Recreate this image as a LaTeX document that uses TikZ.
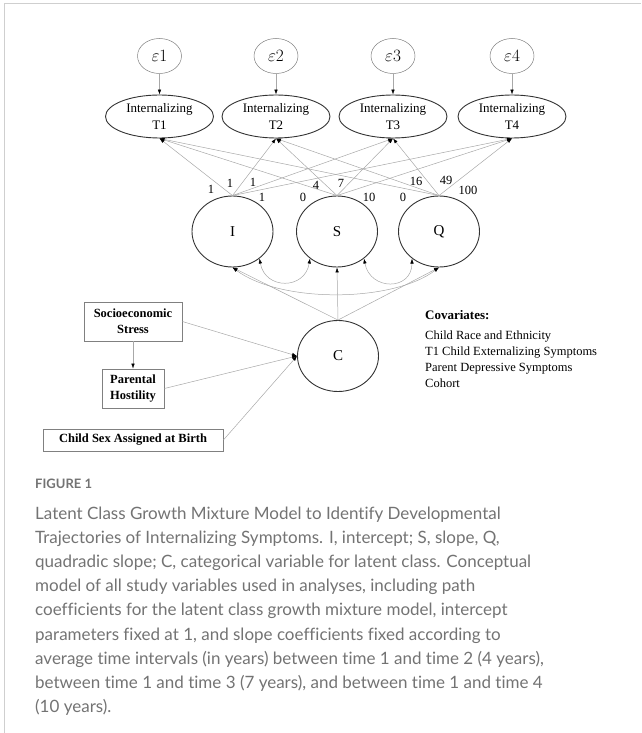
\documentclass[tikz,border=0pt]{standalone}
\usepackage{fontspec}
\setmainfont{Liberation Serif}
\newfontfamily\capfont[Ligatures=CommonOff]{Lato}
\usetikzlibrary{shapes.geometric,arrows.meta}
\definecolor{framegray}{HTML}{CFCFCF}
\definecolor{linegray}{HTML}{A8A8A8}
\definecolor{capgray}{HTML}{737373}
\definecolor{dark}{HTML}{333333}
\begin{document}
\begin{tikzpicture}[x=1pt,y=-1pt,
  errnode/.style={ellipse,draw=gray,line width=0.5pt,minimum width=44pt,minimum height=35pt,inner sep=0pt,font=\fontsize{18}{18}\selectfont},
  obs/.style={ellipse,draw=dark,line width=0.9pt,minimum width=108pt,minimum height=43pt,inner sep=0pt,align=center,font=\fontsize{13}{16.5}\selectfont},
  lat/.style={ellipse,draw=dark,line width=0.9pt,minimum width=81pt,minimum height=71pt,inner sep=0pt,font=\fontsize{15}{15}\selectfont},
  obsbox/.style={rectangle,draw=gray,line width=0.8pt,inner sep=0pt,align=center,font=\fontsize{12.5}{16}\selectfont\bfseries},
  pth/.style={draw=linegray,line width=0.5pt,-{Latex[length=5pt,width=3.5pt,color=black]}},
  cov/.style={draw=linegray,line width=0.5pt,{Latex[length=5pt,width=3.5pt,color=black]}-{Latex[length=5pt,width=3.5pt,color=black]}},
  coef/.style={font=\fontsize{12.5}{13}\selectfont,inner sep=0pt},
  capline/.style={anchor=base west,inner sep=0pt,text=capgray,font=\capfont\fontsize{17}{20}\selectfont}
]
\useasboundingbox (0,0) rectangle (641,733);
\draw[framegray,line width=1pt] (4,733) -- (4,4) -- (641,4);

% error terms and indicators
\foreach \i/\x in {1/159.5,2/276,3/393,4/512}{
  \node[errnode] (e\i) at (\x,56) {$\varepsilon\i$};
  \node[obs] (t\i) at (\x,116.5) {Internalizing\\T\i};
  \draw[pth] (e\i) -- (t\i);
}

% growth factors
\node[lat] (I) at (232.5,231.5) {I};
\node[lat] (S) at (337,231.5) {S};
\node[lat] (Q) at (439,231.5) {Q};

\foreach \src in {I,S,Q}{
  \foreach \k in {1,...,4}{
    \draw[pth] (\src.north) -- (t\k.south);
  }
}

% coefficients
\node[coef] (l1) at (211,189) {1};
\node[coef] (l2) at (230,183) {1};
\node[coef] (l3) at (253,182) {1};
\node[coef] (l4) at (262,197) {1};
\node[coef] (l5) at (303,197) {0};
\node[coef] (l6) at (316,185) {4};
\node[coef] (l7) at (341,183) {7};
\node[coef] (l8) at (369,197) {10};
\node[coef] (l9) at (403,197) {0};
\node[coef] (l10) at (416,181) {16};
\node[coef] (l11) at (446,180) {49};
\node[coef] (l12) at (468,190) {100};

% covariances
\draw[cov] (I.-45) .. controls (265,290) and (305,290) .. (S.-135);
\draw[cov] (S.-45) .. controls (370,291) and (412,291) .. (Q.-135);
\draw[cov] (I.south) .. controls (280,303) and (392,303) .. (Q.south);

% latent class
\node[lat] (C) at (338,356) {C};
\draw[pth] (C.north) -- (I.south);
\draw[pth] (C.north) -- (S.south);
\draw[pth] (C.north) -- (Q.south);

% predictors
\node[obsbox,minimum width=98pt,minimum height=39pt] (ses) at (133,321.5) {Socioeconomic\\Stress};
\node[obsbox,minimum width=62pt,minimum height=39pt] (ph) at (133,388.5) {Parental\\Hostility};
\node[obsbox,minimum width=180pt,minimum height=22pt] (sex) at (133,440) {Child Sex Assigned at Birth};
\draw[pth] (ses) -- (ph);
\draw[pth] (ses.east) -- (C.west);
\draw[pth] (ph.east) -- (C.west);
\draw[pth] (sex.east) -- (C.west);

% covariates
\node[anchor=west,inner sep=0pt,font=\fontsize{13}{15}\selectfont\bfseries] (covh) at (425,315) {Covariates:};
\node[anchor=north west,inner sep=0pt,align=left,font=\fontsize{12.5}{16}\selectfont] (covl) at (425,331)
  {Child Race and Ethnicity\\T1 Child Externalizing Symptoms\\Parent Depressive Symptoms\\Cohort};

% caption
\node[anchor=base west,inner sep=0pt,text=capgray,font=\capfont\fontsize{13}{15}\selectfont\bfseries] (fig) at (35,488) {FIGURE 1};
\node[capline] (c1) at (35,519) {Latent Class Growth Mixture Model to Identify Developmental};
\node[capline] (c2) at (35,543.2) {Trajectories of Internalizing Symptoms. I, intercept; S, slope, Q,};
\node[capline] (c3) at (35,567.4) {quadradic slope; C, categorical variable for latent class. Conceptual};
\node[capline] (c4) at (35,591.6) {model of all study variables used in analyses, including path};
\node[capline] (c5) at (35,615.8) {coefficients for the latent class growth mixture model, intercept};
\node[capline] (c6) at (35,640) {parameters fixed at 1, and slope coefficients fixed according to};
\node[capline] (c7) at (35,664.2) {average time intervals (in years) between time 1 and time 2 (4 years),};
\node[capline] (c8) at (35,688.4) {between time 1 and time 3 (7 years), and between time 1 and time 4};
\node[capline] (c9) at (35,712.6) {(10 years).};
\end{tikzpicture}
\end{document}
